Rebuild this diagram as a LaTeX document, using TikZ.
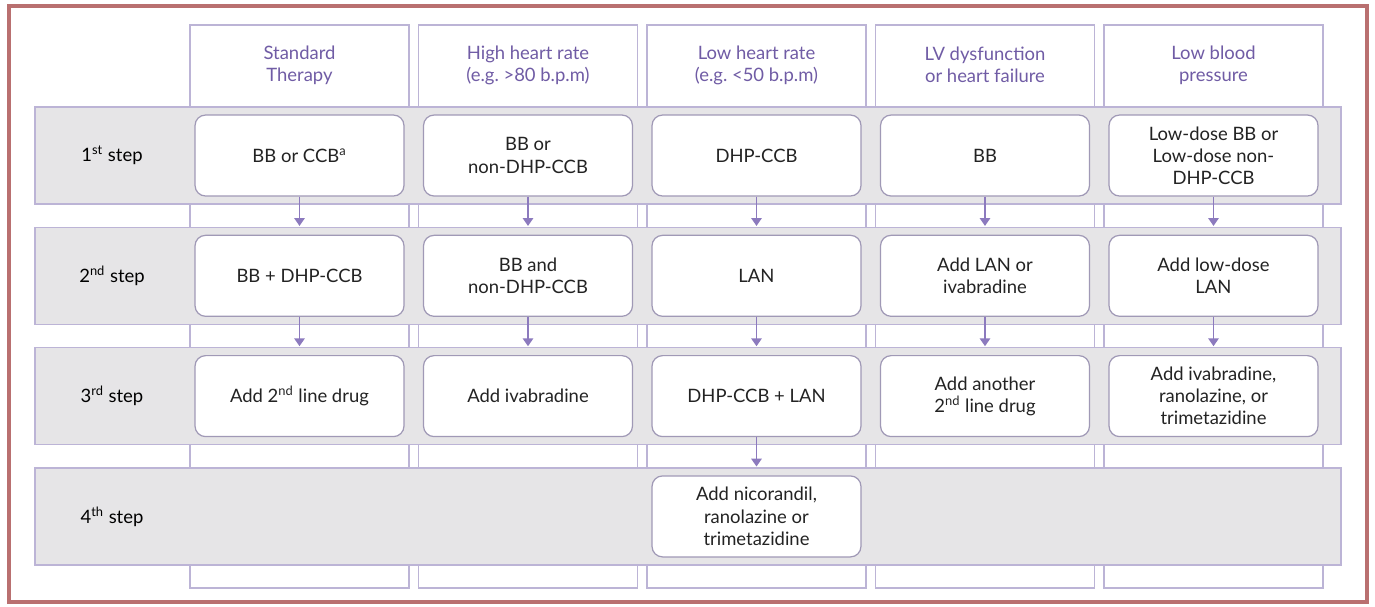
\documentclass[tikz,border=0pt]{standalone}
\usepackage{fontspec}
\setmainfont{Lato}
\usetikzlibrary{arrows.meta}

\definecolor{framered}{RGB}{185,112,112}
\definecolor{lavline}{RGB}{188,180,214}
\definecolor{bandgray}{RGB}{230,229,231}
\definecolor{headpurple}{RGB}{112,92,165}
\definecolor{flowpurple}{RGB}{140,122,190}
\definecolor{drugtext}{RGB}{35,35,35}

\tikzset{
  frameline/.style={draw=framered, line width=2pt},
  colbox/.style={draw=lavline, fill=white, line width=0.8pt},
  stepband/.style={draw=lavline, fill=bandgray, line width=0.8pt},
  headtxt/.style={text=headpurple, align=center},
  steplabel/.style={text=black},
  drug/.style={draw=lavline!85!black, fill=white, line width=0.7pt, rounded corners=6pt,
    minimum width=4.18cm, minimum height=1.62cm, inner sep=0pt, align=center, text=drugtext},
  flow/.style={draw=flowpurple, line width=0.8pt, -{Triangle[length=4.5pt, width=6pt]}, shorten >=5pt}
}

\begin{document}
\frenchspacing
\begin{tikzpicture}[x=0.02cm, y=-0.02cm, font=\fontsize{10.5}{12.6}\selectfont]
    \useasboundingbox (0,0) rectangle (1375,606);

    % Outer frame
    \draw[frameline] (9,6) rectangle (1367,602);

    % Columns
    \foreach \col in {1,...,5} {
        \draw[colbox] ({190+228.5*(\col-1)},25) rectangle +(219,563);
    }

    % Column headers
    \foreach \col/\txt in {1/{Standard\\Therapy}, 2/{High heart rate\\(e.g.\ >80 b.p.m)},
        3/{Low heart rate\\(e.g.\ <50 b.p.m)}, 4/{LV dysfunction\\or heart failure},
        5/{Low blood\\pressure}} {
        \node[headtxt] (h\col) at ({299.5+228.5*(\col-1)},65) {\txt};
    }

    % Step bands and labels
    \foreach \row/\sup in {1/st, 2/nd, 3/rd, 4/th} {
        \draw[stepband] (35,{107+120.3*(\row-1)}) rectangle +(1306,97);
        \node[steplabel] (s\row) at (112,{155.5+120.3*(\row-1)}) {\row\textsuperscript{\sup} step};
    }

    % Drug boxes
    \foreach \row/\col/\txt in {
        1/1/{BB or CCB\textsuperscript{a}}, 1/2/{BB or\\non-DHP-CCB}, 1/3/{DHP-CCB}, 1/4/{BB},
        1/5/{Low-dose BB or\\Low-dose non-\\DHP-CCB},
        2/1/{BB + DHP-CCB}, 2/2/{BB and\\non-DHP-CCB}, 2/3/{LAN}, 2/4/{Add LAN or\\ivabradine},
        2/5/{Add low-dose\\LAN},
        3/1/{Add 2\textsuperscript{nd} line drug}, 3/2/{Add ivabradine}, 3/3/{DHP-CCB + LAN},
        3/4/{Add another\\2\textsuperscript{nd} line drug}, 3/5/{Add ivabradine,\\ranolazine, or\\trimetazidine},
        4/3/{Add nicorandil,\\ranolazine or\\trimetazidine}} {
        \node[drug] (b\row\col) at ({299.5+228.5*(\col-1)},{155.5+120.3*(\row-1)}) {\txt};
    }

    % Arrows between steps
    \foreach \col in {1,...,5} {
        \draw[flow] (b1\col) -- (b2\col);
        \draw[flow] (b2\col) -- (b3\col);
    }
    \draw[flow] (b33) -- (b43);

\end{tikzpicture}
\end{document}
